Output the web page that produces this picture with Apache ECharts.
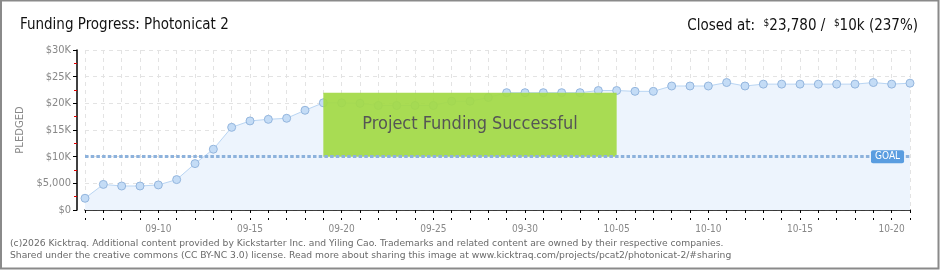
<!DOCTYPE html>
<html><head><meta charset="utf-8">
<script src="https://cdn.jsdelivr.net/npm/echarts@6/dist/echarts.min.js"></script>
<style>html,body{margin:0;padding:0;background:#fff}#c{width:940px;height:270px}</style>
</head><body><div id="c"></div>
<script>
const dates = ['09-06','09-07','09-08','09-09','09-10','09-11','09-12','09-13','09-14','09-15','09-16','09-17','09-18','09-19','09-20','09-21','09-22','09-23','09-24','09-25','09-26','09-27','09-28','09-29','09-30','10-01','10-02','10-03','10-04','10-05','10-06','10-07','10-08','10-09','10-10','10-11','10-12','10-13','10-14','10-15','10-16','10-17','10-18','10-19','10-20','10-21'];
const pledged = [2200,4800,4500,4500,4700,5700,8700,11400,15500,16700,17000,17200,18700,20100,20100,20000,19600,19600,19600,19600,20400,20400,21100,22000,22000,22000,22000,22000,22400,22400,22250,22250,23250,23250,23250,23900,23250,23600,23600,23600,23600,23600,23600,23900,23600,23780];
const goal = 10000;
const yTickLabels = ['$0','$5,000','$10K','$15K','$20K','$25K','$30K'];
const successBox = {start:'09-19', end:'10-05', top:22000, bottom:10000, text:'Project Funding Successful'};
const titleText = 'Funding Progress: Photonicat 2';
const footer = '(c)2026 Kicktraq. Additional content provided by Kickstarter Inc. and Yiling Cao. Trademarks and related content are owned by their respective companies.\nShared under the creative commons (CC BY-NC 3.0) license. Read more about sharing this image at www.kicktraq.com/projects/pcat2/photonicat-2/#sharing';

const narrow = "'DejaVu Sans Condensed','Liberation Sans',sans-serif";
const chart = echarts.init(document.getElementById('c'), null, {renderer:'canvas'});
chart.setOption({
  animation:false,
  backgroundColor:'#fff',
  title:[
    {text:titleText, left:15, top:13, textStyle:{fontFamily:narrow, fontSize:15, fontWeight:'normal', color:'#111'}},
    {text:'Closed at:  {s|$}23,780 /  {s|$}10k (237%)', right:17, top:13,
     textStyle:{fontFamily:narrow, fontSize:15, fontWeight:'normal', color:'#111',
       rich:{s:{fontFamily:narrow, fontSize:10, verticalAlign:'top', color:'#111', padding:[0,0,6,0]}}}},
    {text:footer, left:5, top:233, textStyle:{fontFamily:"'DejaVu Sans',sans-serif", fontSize:9.2, fontWeight:'normal', color:'#6a6a6a', lineHeight:11.5}}
  ],
  graphic:[{type:'rect', shape:{x:1,y:0.5,width:937.5,height:268}, style:{fill:'none', stroke:'#8a8a8a', lineWidth:2}, silent:true}],
  grid:{left:85, right:30, top:50, bottom:60},
  xAxis:[
    {type:'category', data:dates, boundaryGap:false, offset:10,
     axisLine:{lineStyle:{color:'#000', width:1.5}},
     axisTick:{interval:0, length:3, lineStyle:{color:'#000'}},
     axisLabel:{interval:(i)=>i%5===4, color:'#888', fontSize:10, fontFamily:narrow, margin:4},
     splitLine:{show:true, interval:0, lineStyle:{color:'#e3e3e3', type:[4,4]}}},
    {type:'category', data:dates, boundaryGap:false, offset:10, position:'bottom',
     axisLine:{show:false}, axisLabel:{show:false}, splitLine:{show:false},
     axisTick:{interval:0, inside:true, length:2, lineStyle:{color:'#000'}}}
  ],
  yAxis:{type:'value', min:0, max:30000, interval:5000, offset:8,
    name:'PLEDGED', nameLocation:'middle', nameRotate:90, nameGap:52,
    nameTextStyle:{color:'#888', fontSize:10, fontFamily:"'DejaVu Sans',sans-serif"},
    axisLine:{show:true, lineStyle:{color:'#000', width:1.5}},
    axisTick:{show:true, length:4, lineStyle:{color:'#000'}},
    minorTick:{show:true, splitNumber:2, length:3, lineStyle:{color:'#e00000'}},
    axisLabel:{formatter:(v)=>yTickLabels[Math.round(v/5000)], color:'#888', fontSize:11, fontFamily:narrow, margin:6},
    splitLine:{show:true, lineStyle:{color:'#e3e3e3', type:[4,4]}}},
  series:[
    {type:'line', data:pledged, z:3, symbol:'circle', symbolSize:8,
     lineStyle:{color:'#b9d5f3', width:1},
     itemStyle:{color:'#c4dcf6', borderColor:'#94b6de', borderWidth:1},
     areaStyle:{color:'#edf4fd', opacity:1},
     markLine:{silent:true, symbol:'none', data:[{yAxis:goal}],
       lineStyle:{color:'#8db2dc', type:[3.5,2.2], width:3},
       label:{show:true, position:'end', distance:-39, formatter:'GOAL', color:'#fff', fontSize:10,
         fontFamily:narrow, backgroundColor:'#5a9de0', borderRadius:2, padding:[2,4,1,4]}}},
    {type:'line', data:[], z:5,
     markArea:{silent:true, z:5,
       itemStyle:{color:'rgba(163,217,70,0.93)', borderWidth:0},
       label:{show:true, position:'inside', color:'#555', fontSize:18, fontFamily:narrow,
         textShadowColor:'#fff', textShadowBlur:0, textShadowOffsetX:1, textShadowOffsetY:1},
       data:[[{xAxis:successBox.start, yAxis:successBox.top, name:successBox.text},{xAxis:successBox.end, yAxis:successBox.bottom}]]}}
  ]
});
</script></body></html>
